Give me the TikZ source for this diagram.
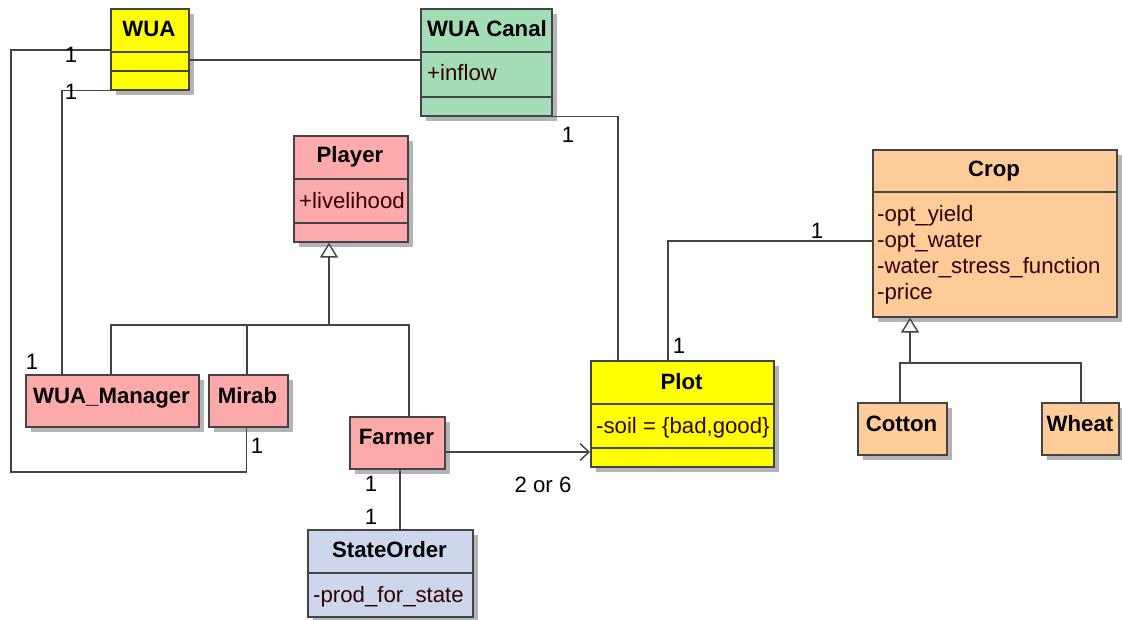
\documentclass[tikz,border=0pt]{standalone}
\usepackage{fontspec}
\setmainfont{Liberation Sans}
\usetikzlibrary{arrows.meta,calc}
\definecolor{bordc}{HTML}{444444}
\definecolor{shadowc}{HTML}{B4B4B4}
\definecolor{attrc}{HTML}{330000}
\definecolor{cyellow}{HTML}{FFFF00}
\definecolor{cgreen}{HTML}{A2DDB5}
\definecolor{cpink}{HTML}{FFAAAA}
\definecolor{corange}{HTML}{FFCC99}
\definecolor{cblue}{HTML}{CCD7EB}
\tikzset{
  every node/.style={inner sep=0pt, font=\fontsize{22.2}{26}\selectfont},
  title/.style={anchor=base, font=\fontsize{22.2}{26}\selectfont\bfseries},
  attr/.style={anchor=base west, text=attrc},
  mult/.style={anchor=base},
  box/.style={draw=bordc, line width=1.6pt, rectangle, inner sep=0pt},
  sep/.style={draw=bordc, line width=1.6pt},
  conn/.style={draw=bordc, line width=1.4pt},
  gen/.style={conn, -{Triangle[open, length=15pt, width=18pt, fill=white]}},
  nav/.style={conn, -{Straight Barb[length=9pt, width=17pt]}},
}
\newcommand\umlbox[6]{%
  \fill[shadowc] (#2+6,#3+6) rectangle (#4+6,#5+6);
  \node[box, fill=#6, anchor=north west, minimum width={(#4-#2)*1pt}, minimum height={(#5-#3)*1pt}] (#1) at (#2,#3) {};
}
\begin{document}
\begin{tikzpicture}[x=1pt,y=-1pt]
\useasboundingbox (0,0) rectangle (1122,620);

% classes
\umlbox{WUA}{110}{8}{188}{89}{cyellow}
\draw[sep] (110,52) -- (188,52);
\draw[sep] (110,71) -- (188,71);
\node[title] (WUAt) at (149,37) {WUA};

\umlbox{Canal}{420}{8}{551}{115}{cgreen}
\draw[sep] (420,52) -- (551,52);
\draw[sep] (420,97) -- (551,97);
\node[title] (Canalt) at (487,36.5) {WUA Canal};
\node[attr] (Canala) at (427,81) {+inflow};

\umlbox{Player}{293}{135}{407}{241}{cpink}
\draw[sep] (293,179) -- (407,179);
\draw[sep] (293,223) -- (407,223);
\node[title] (Playert) at (350,163) {Player};
\node[attr] (Playera) at (299,209) {+livelihood};

\umlbox{Crop}{872}{149}{1116}{316}{corange}
\draw[sep] (872,192) -- (1116,192);
\node[title] (Cropt) at (994,177) {Crop};
\node[attr] (Cropa1) at (877,222) {-opt\_yield};
\node[attr] (Cropa2) at (877,248) {-opt\_water};
\node[attr] (Cropa3) at (877,274) {-water\_stress\_function};
\node[attr] (Cropa4) at (877,300) {-price};

\umlbox{Plot}{590}{360}{773}{466}{cyellow}
\draw[sep] (590,404) -- (773,404);
\draw[sep] (590,448) -- (773,448);
\node[title] (Plott) at (681.5,389) {Plot};
\node[attr] (Plota) at (596,433) {-soil = \{bad,good\}};

\umlbox{WUAM}{25}{374}{198}{426}{cpink}
\node[title] (WUAMt) at (111.5,403) {WUA\_Manager};

\umlbox{Mirab}{208}{374}{287}{426}{cpink}
\node[title] (Mirabt) at (247.5,403) {Mirab};

\umlbox{Farmer}{349}{416}{444}{468}{cpink}
\node[title] (Farmert) at (396.5,444) {Farmer};

\umlbox{State}{307}{529}{472}{616}{cblue}
\draw[sep] (307,573) -- (472,573);
\node[title] (Statet) at (389.5,557) {StateOrder};
\node[attr] (Statea) at (313,602) {-prod\_for\_state};

\umlbox{Cotton}{857}{402}{946}{454}{corange}
\node[title] (Cottont) at (901.5,431) {Cotton};

\umlbox{Wheat}{1041}{402}{1118}{454}{corange}
\node[title] (Wheatt) at (1080,431) {Wheat};

% connectors
\draw[conn] ($(WUA.north west)+(0,42)$) -- (11,50) -- (11,472) -| ($(Mirab.south)+(-2,0)$);
\draw[conn] (WUA.south west) -| ($(WUAM.north west)+(37,0)$);
\draw[conn] ($(WUA.north east)+(0,52)$) -- ($(Canal.north west)+(0,52)$);
\draw[conn] (Canal.south east) -| ($(Plot.north west)+(28,0)$);
\draw[conn] ($(Plot.north west)+(78,0)$) |- ($(Crop.north west)+(0,92)$);
\draw[nav] ($(Farmer.north east)+(0,36)$) -- ($(Plot.north west)+(0,92)$);
\draw[conn] ($(Farmer.south west)+(51,0)$) -- ($(State.north west)+(93,0)$);

% generalizations
\coordinate (pj) at (329,325);
\draw[gen] ($(WUAM.north west)+(86,0)$) |- (pj) -- ($(Player.south west)+(36,0)$);
\draw[conn] ($(Mirab.north west)+(39,0)$) |- (pj);
\draw[conn] ($(Farmer.north west)+(60,0)$) |- (pj);
\coordinate (cj) at (910,363);
\draw[gen] ($(Cotton.north west)+(43,0)$) |- (cj) -- ($(Crop.south west)+(38,0)$);
\draw[conn] ($(Wheat.north west)+(40,0)$) |- (cj);

% multiplicities
\node[mult] (m1) at (71,63) {1};
\node[mult] (m2) at (71,100) {1};
\node[mult] (m3) at (32,370) {1};
\node[mult] (m4) at (257,453) {1};
\node[mult] (m5) at (568,143) {1};
\node[mult] (m6) at (679,354) {1};
\node[mult] (m7) at (817,239) {1};
\node[mult] (m8) at (371,491) {1};
\node[mult] (m9) at (371,524) {1};
\node[mult] (m10) at (543,492) {2 or 6};
\end{tikzpicture}
\end{document}
